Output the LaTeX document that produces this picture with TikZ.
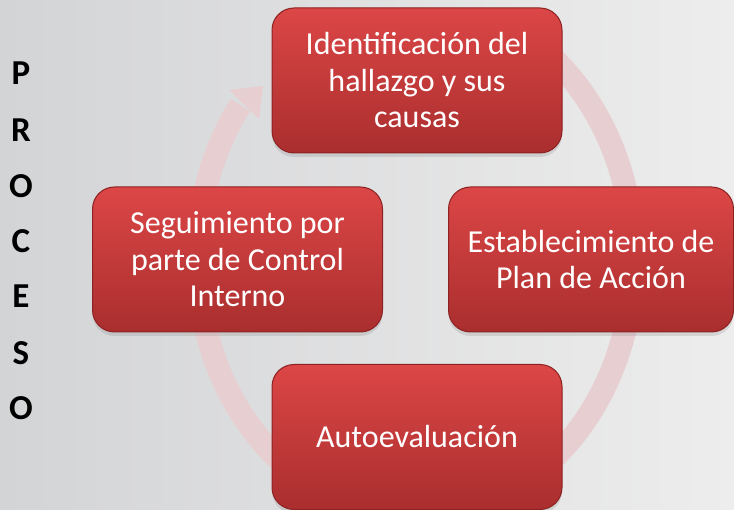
\documentclass[tikz,border=0pt]{standalone}
\usepackage{fontspec}
\setmainfont{Carlito}
\usetikzlibrary{shadows}
\definecolor{bgL}{RGB}{211,212,214}
\definecolor{bgR}{RGB}{237,237,237}
\definecolor{ringc}{RGB}{231,207,209}
\definecolor{boxTop}{RGB}{220,70,70}
\definecolor{boxBot}{RGB}{170,46,46}
\definecolor{boxEdge}{RGB}{140,34,34}
\tikzset{
  stepbox/.style={rounded corners=22pt, top color=boxTop, bottom color=boxBot,
    draw=boxEdge, line width=1pt, text=white, font=\fontsize{32}{36.5}\selectfont,
    align=center, inner sep=0pt, minimum height=145pt,
    drop shadow={opacity=0.22, shadow xshift=0pt, shadow yshift=-4pt}},
  letter/.style={font=\bfseries\fontsize{35}{35}\selectfont, anchor=base, inner sep=0pt},
  ringline/.style={draw=ringc, line width=23pt},
}
\begin{document}
\begin{tikzpicture}[x=1pt,y=-1pt]
\shade[left color=bgL,right color=bgR] (0,0) rectangle (734,510);
\useasboundingbox (0,0) rectangle (734,510);
% ring
\draw[ringline] plot[domain=-55:216.5, samples=140, smooth] ({415.5+218*cos(\x)},{258.5+258*sin(\x)});
\fill[ringc] (229,90) -- (263,86) -- (259,119) -- cycle;
% boxes
\node[stepbox, minimum width=290pt] (ident) at (417,80.5) {Identificación del\\hallazgo y sus\\causas};
\node[stepbox, minimum width=285pt] (plan) at (591,259.5) {Establecimiento de\\Plan de Acción};
\node[stepbox, minimum width=290pt] (auto) at (417,437) {Autoevaluación};
\node[stepbox, minimum width=290pt] (segui) at (237.5,259.5) {Seguimiento por\\parte de Control\\Interno};
% PROCESO
\foreach \l/\y [count=\i] in {P/85,R/142,O/198,C/253,E/308,S/365,O/420}
  \node[letter] (p\i) at (21,\y) {\l};
\end{tikzpicture}
\end{document}
